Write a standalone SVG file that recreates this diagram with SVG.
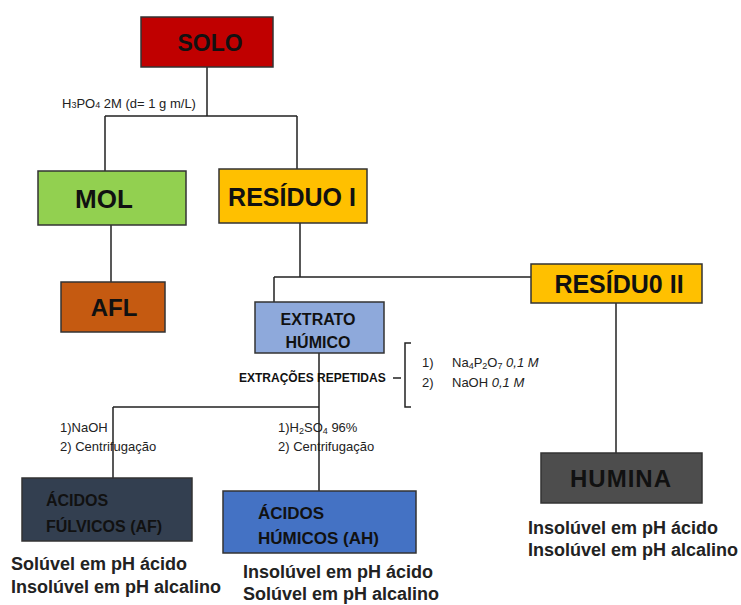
<svg xmlns="http://www.w3.org/2000/svg" width="741" height="605" viewBox="0 0 741 605">
<style>
.box{stroke:#333;stroke-width:1.5}
.t{font-family:"Liberation Sans",Arial,sans-serif;font-weight:bold;fill:#111}
.s{font-family:"Liberation Sans",Arial,sans-serif;font-size:13px;fill:#222}
.d{font-family:"Liberation Sans",Arial,sans-serif;font-weight:bold;font-size:18px;fill:#222}
.ln{stroke:#222;stroke-width:1.5;fill:none}
</style>
<rect width="741" height="605" fill="#fff"/>
<g id="connectors">
<path class="ln" d="M207 67V116M105 116H297M105 116V171M297 116V169"/>
<path class="ln" d="M111 225V282"/>
<path class="ln" d="M300 223V277M274 277H531M274 277V302"/>
<path class="ln" d="M616 303V453"/>
<path class="ln" d="M319 353V491M113 407H319M113 407V478"/>
<path class="ln" d="M393 378H401M411 343H405V407H411" stroke-width="1.2"/>
</g>
<g id="label-h3po4"><text class="s" x="62" y="108" font-size="13.5">H<tspan font-size="9">3</tspan>PO<tspan font-size="9">4</tspan> 2M (d= 1 g m/L)</text></g>
<g id="solo"><rect class="box" x="141" y="17" width="132" height="50" fill="#C00000"/><text class="t" x="210" y="51" font-size="23" text-anchor="middle">SOLO</text></g>
<g id="mol"><rect class="box" x="38" y="171" width="148" height="54" fill="#92D050"/><text class="t" x="104" y="208" font-size="26" text-anchor="middle">MOL</text></g>
<g id="residuo1"><rect class="box" x="219" y="169" width="148" height="54" fill="#FFC000"/><text class="t" x="292" y="206" font-size="25" text-anchor="middle">RESÍDUO I</text></g>
<g id="afl"><rect class="box" x="61" y="282" width="104" height="50" fill="#C55A11"/><text class="t" x="114" y="316" font-size="24" text-anchor="middle">AFL</text></g>
<g id="residuo2"><rect class="box" x="531" y="264" width="171" height="39" fill="#FFC000"/><text class="t" x="619" y="293" font-size="25" text-anchor="middle">RESÍDU0 II</text></g>
<g id="extrato"><rect class="box" x="255" y="302" width="129" height="51" fill="#8EA9DB"/><text class="t" x="318" y="325" font-size="16" text-anchor="middle">EXTRATO</text><text class="t" x="318" y="348" font-size="16" text-anchor="middle">HÚMICO</text></g>
<g id="label-extracoes"><text class="t" x="239" y="382" font-size="12">EXTRAÇÕES REPETIDAS</text></g>
<g id="label-list"><text class="s" x="422" y="367">1)</text><text class="s" x="452" y="367">Na<tspan font-size="9" dy="2">4</tspan><tspan dy="-2">P</tspan><tspan font-size="9" dy="2">2</tspan><tspan dy="-2">O</tspan><tspan font-size="9" dy="2">7</tspan><tspan dy="-2" font-style="italic"> 0,1 M</tspan></text><text class="s" x="422" y="387">2)</text><text class="s" x="452" y="387">NaOH <tspan font-style="italic">0,1 M</tspan></text></g>
<g id="label-naoh"><text class="s" x="60" y="432">1)NaOH</text><text class="s" x="60" y="451">2) Centrifugação</text></g>
<g id="label-h2so4"><text class="s" x="278" y="432">1)H<tspan font-size="9" dy="2">2</tspan><tspan dy="-2">SO</tspan><tspan font-size="9" dy="2">4</tspan><tspan dy="-2"> 96%</tspan></text><text class="s" x="278" y="451">2) Centrifugação</text></g>
<g id="humina"><rect class="box" x="541" y="453" width="161" height="50" fill="#4D4D4D"/><text class="t" x="621" y="487" font-size="24" letter-spacing="1" text-anchor="middle">HUMINA</text><text class="d" x="528" y="534">Insolúvel em pH ácido</text><text class="d" x="528" y="556">Insolúvel em pH alcalino</text></g>
<g id="af"><rect class="box" x="22" y="478" width="170" height="63" fill="#333F50"/><text class="t" x="46" y="506" font-size="16" fill="#1a1f28">ÁCIDOS</text><text class="t" x="46" y="532" font-size="16" fill="#1a1f28">FÚLVICOS (AF)</text><text class="d" x="11" y="570">Solúvel em pH ácido</text><text class="d" x="11" y="593">Insolúvel em pH alcalino</text></g>
<g id="ah"><rect class="box" x="223" y="491" width="193" height="62" fill="#4472C4"/><text class="t" x="258" y="519" font-size="17" fill="#1a2a50">ÁCIDOS</text><text class="t" x="258" y="544" font-size="17" fill="#1a2a50">HÚMICOS (AH)</text><text class="d" x="243" y="578">Insolúvel em pH ácido</text><text class="d" x="243" y="600">Solúvel em pH alcalino</text></g>
</svg>
